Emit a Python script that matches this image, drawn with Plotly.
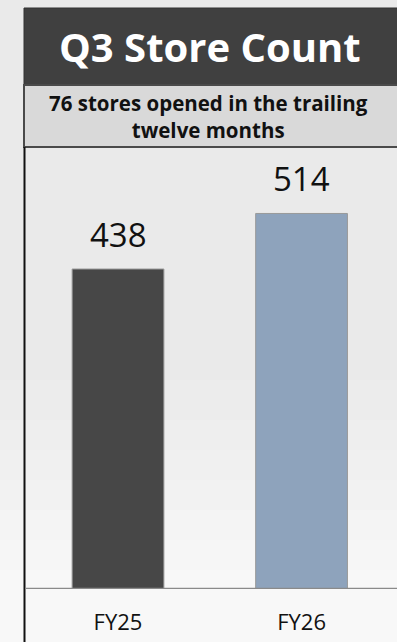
import plotly.graph_objects as go

# ---- data ----
categories = ["FY25", "FY26"]
store_counts = [438, 514]
bar_colors = ["#474747", "#8ea3bc"]
title_text = "Q3 Store Count"
subtitle_text = "76 stores opened in the trailing<br>twelve months"

W, H = 397, 642


def px(x):
    return x / W


def py(y):
    return 1 - y / H


FONT = "Open Sans"

fig = go.Figure(
    go.Bar(
        x=categories,
        y=store_counts,
        width=0.5,
        marker=dict(color=bar_colors, line=dict(color="#9a9a9a", width=1)),
        hoverinfo="skip",
    )
)

annotations = []
for c, v in zip(categories, store_counts):
    annotations.append(
        dict(
            x=c, y=v, xref="x", yref="y", text=str(v), showarrow=False,
            yanchor="bottom", yshift=10,
            font=dict(family=FONT, size=33, color="#111111"),
        )
    )

annotations.append(
    dict(
        x=px(210.5), y=py(47), xref="paper", yref="paper", text=f"<b>{title_text}</b>",
        showarrow=False, xanchor="center", yanchor="middle",
        font=dict(family=FONT, size=40, color="#ffffff"),
    )
)
annotations.append(
    dict(
        x=px(208), y=py(116), xref="paper", yref="paper", text=f"<b>{subtitle_text}</b>",
        showarrow=False, xanchor="center", yanchor="middle",
        font=dict(family=FONT, size=20.5, color="#111111"),
    )
)

# soft background gradient (textured grey at top fading to near-white at bottom)
bg_stops = [(0, "#eaeaea"), (380, "#ececec"), (420, "#eeeeee"), (450, "#f0f0f0"),
            (480, "#f2f2f2"), (510, "#f4f4f4"), (540, "#f6f6f6"), (570, "#f8f8f8")]
shapes = []
for y0, col in bg_stops:
    shapes.append(dict(type="rect", xref="paper", yref="paper", x0=0, x1=1,
                       y0=0, y1=py(y0), fillcolor=col, line=dict(width=0), layer="below"))

shapes += [
    # title box
    dict(type="rect", xref="paper", yref="paper", x0=px(24), x1=1.01, y0=py(85), y1=py(8),
         fillcolor="#404040", line=dict(color="#333333", width=1), layer="below"),
    # subtitle band
    dict(type="rect", xref="paper", yref="paper", x0=px(24), x1=1.01, y0=py(147), y1=py(85),
         fillcolor="#d9d9d9", line=dict(color="#4a4a4a", width=2), layer="below"),
    # left border
    dict(type="line", xref="paper", yref="paper", x0=px(24.5), x1=px(24.5), y0=0, y1=py(147),
         line=dict(color="#111111", width=2)),
    # baseline
    dict(type="line", xref="paper", yref="y", x0=px(25), x1=1, y0=0, y1=0,
         line=dict(color="#8a8a8a", width=2.5)),
]

fig.update_layout(
    width=W, height=H,
    margin=dict(l=0, r=0, t=0, b=0),
    paper_bgcolor="#eaeaea",
    plot_bgcolor="rgba(0,0,0,0)",
    showlegend=False,
    annotations=annotations,
    shapes=shapes,
    xaxis=dict(
        domain=[0, 1], range=[-0.643, 1.52], showgrid=False, zeroline=False, showline=False,
        ticks="outside", ticklen=14, tickcolor="rgba(0,0,0,0)",
        tickfont=dict(family=FONT, size=22, color="#111111"), fixedrange=True,
    ),
    yaxis=dict(
        domain=[py(589), py(147)], range=[0, 605], visible=False, fixedrange=True,
    ),
)

fig.write_html("out.html", config={"displayModeBar": False})
